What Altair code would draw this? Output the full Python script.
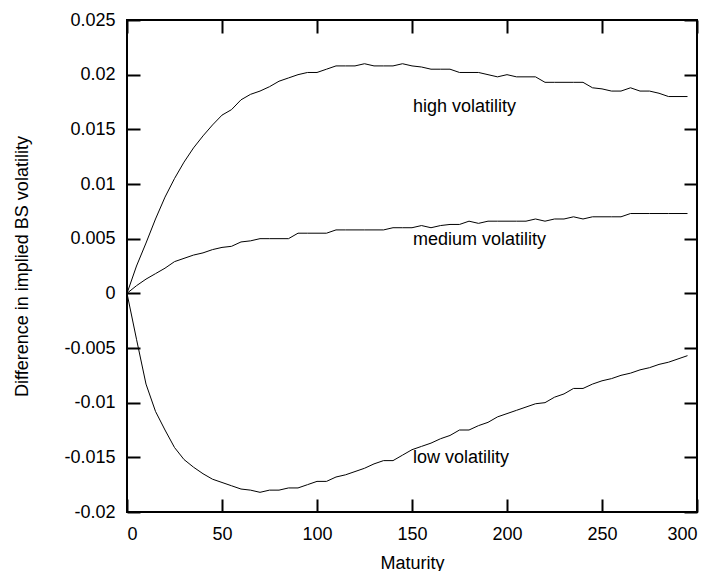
import altair as alt
import pandas as pd

maturity = [0, 5, 10, 15, 20, 25, 30, 35, 40, 45,
            50, 55, 60, 65, 70, 75, 80, 85, 90, 95,
            100, 105, 110, 115, 120, 125, 130, 135, 140, 145,
            150, 155, 160, 165, 170, 175, 180, 185, 190, 195,
            200, 205, 210, 215, 220, 225, 230, 235, 240, 245,
            250, 255, 260, 265, 270, 275, 280, 285, 290, 295]

high = [0.0, 0.0025, 0.0046, 0.0068, 0.0088, 0.0105, 0.0120, 0.0133, 0.0144, 0.0154,
        0.0163, 0.0168, 0.0177, 0.0182, 0.0185, 0.0189, 0.0194, 0.0197, 0.0200, 0.0202,
        0.0202, 0.0205, 0.0208, 0.0208, 0.0208, 0.0210, 0.0208, 0.0208, 0.0208, 0.0210,
        0.0208, 0.0207, 0.0205, 0.0205, 0.0205, 0.0202, 0.0202, 0.0202, 0.0200, 0.0198,
        0.0200, 0.0198, 0.0198, 0.0198, 0.0193, 0.0193, 0.0193, 0.0193, 0.0193, 0.0188,
        0.0187, 0.0185, 0.0185, 0.0188, 0.0185, 0.0185, 0.0183, 0.0180, 0.0180, 0.0180]

medium = [0.0, 0.0007, 0.0013, 0.0018, 0.0023, 0.0029, 0.0032, 0.0035, 0.0037, 0.0040,
          0.0042, 0.0043, 0.0047, 0.0048, 0.0050, 0.0050, 0.0050, 0.0050, 0.0055, 0.0055,
          0.0055, 0.0055, 0.0058, 0.0058, 0.0058, 0.0058, 0.0058, 0.0058, 0.0060, 0.0060,
          0.0060, 0.0062, 0.0060, 0.0062, 0.0063, 0.0063, 0.0066, 0.0064, 0.0066, 0.0066,
          0.0066, 0.0066, 0.0066, 0.0068, 0.0066, 0.0068, 0.0068, 0.0070, 0.0068, 0.0070,
          0.0070, 0.0070, 0.0070, 0.0073, 0.0073, 0.0073, 0.0073, 0.0073, 0.0073, 0.0073]

low = [0.0, -0.0042, -0.0083, -0.0108, -0.0125, -0.0141, -0.0152, -0.0159, -0.0165, -0.0170,
       -0.0173, -0.0176, -0.0179, -0.0180, -0.0182, -0.0180, -0.0180, -0.0178, -0.0178, -0.0175,
       -0.0172, -0.0172, -0.0168, -0.0166, -0.0163, -0.0160, -0.0156, -0.0153, -0.0153, -0.0148,
       -0.0143, -0.0140, -0.0137, -0.0133, -0.0130, -0.0125, -0.0125, -0.0121, -0.0118, -0.0113,
       -0.0110, -0.0107, -0.0104, -0.0101, -0.0100, -0.0095, -0.0092, -0.0087, -0.0087, -0.0083,
       -0.0080, -0.0078, -0.0075, -0.0073, -0.0070, -0.0068, -0.0065, -0.0063, -0.0060, -0.0057]

label_text = ["high volatility", "medium volatility", "low volatility"]
label_x = [150.5, 150.5, 150.5]
label_y = [0.0170, 0.0049, -0.0151]

x_ticks = [0, 50, 100, 150, 200, 250, 300]
y_ticks = [-0.02, -0.015, -0.01, -0.005, 0, 0.005, 0.01, 0.015, 0.02, 0.025]

FONT = "Liberation Sans"

rows = []
for name, vals in [("high", high), ("medium", medium), ("low", low)]:
    for m, v in zip(maturity, vals):
        rows.append({"series": name, "maturity": m, "value": v})
df = pd.DataFrame(rows)
labels_df = pd.DataFrame({"text": label_text, "x": label_x, "y": label_y})

xscale = alt.Scale(domain=[0, 300], nice=False, zero=False)
yscale = alt.Scale(domain=[-0.02, 0.025], nice=False, zero=False)

common_axis = dict(
    domain=False, grid=False, ticks=True, tickSize=13, tickWidth=2,
    tickColor="black", offset=-13, labelFont=FONT, labelFontSize=18,
    labelColor="black", titleFont=FONT, titleFontSize=18,
    titleFontWeight="normal", titleColor="black",
)

lines = alt.Chart(df).mark_line(color="black", strokeWidth=1).encode(
    x=alt.X("maturity:Q", scale=xscale,
            axis=alt.Axis(orient="bottom", values=x_ticks, title="Maturity",
                          labelPadding=13, labelExpr="'' + datum.value",
                          titleX=285, titleY=64, titleBaseline="middle",
                          titleAlign="center", **common_axis)),
    y=alt.Y("value:Q", scale=yscale,
            axis=alt.Axis(orient="left", values=y_ticks,
                          title="Difference in implied BS volatility",
                          labelPadding=12, labelExpr="'' + datum.value",
                          titleX=-118, titleY=246, titleAngle=270,
                          titleBaseline="middle", titleAlign="center",
                          **common_axis)),
    detail="series:N",
)

texts = alt.Chart(labels_df).mark_text(
    align="left", baseline="middle", font=FONT, fontSize=18, color="black"
).encode(
    x=alt.X("x:Q", scale=xscale,
            axis=alt.Axis(orient="top", values=x_ticks, labels=False, title=None,
                          **common_axis)),
    y=alt.Y("y:Q", scale=yscale,
            axis=alt.Axis(orient="right", values=y_ticks, labels=False, title=None,
                          **common_axis)),
    text="text:N",
)

chart = alt.layer(lines, texts).resolve_scale(
    x="independent", y="independent"
).resolve_axis(
    x="independent", y="independent"
).properties(
    width=570, height=492,
    autosize=alt.AutoSizeParams(type="none"),
    padding={"left": 119, "top": 12, "right": 12, "bottom": 59},
    background="white",
).configure_view(
    stroke="black", strokeWidth=2
)

chart.save("out.html", embed_options={"renderer": "svg", "actions": False})
